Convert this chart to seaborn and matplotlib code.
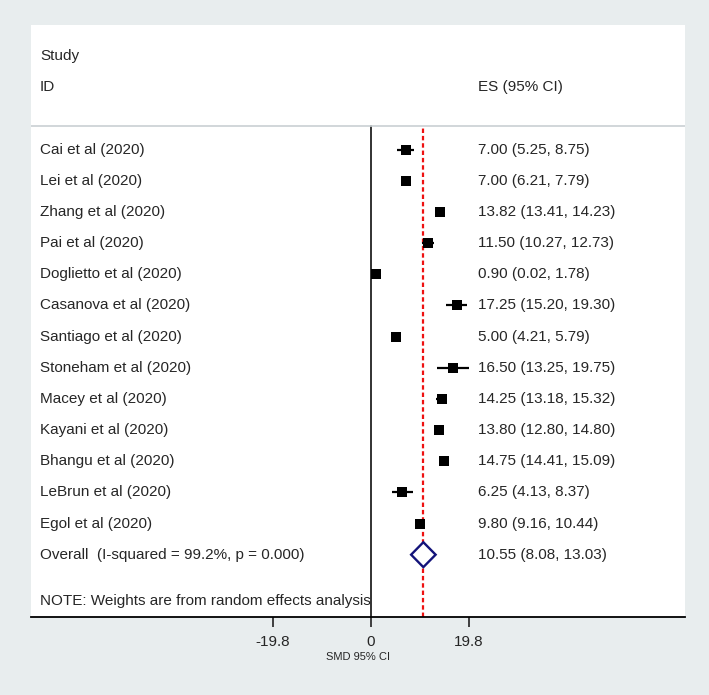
import matplotlib
matplotlib.use("Agg")
import matplotlib.pyplot as plt
import seaborn as sns
import pandas as pd

studies = ["Cai et al (2020)", "Lei et al (2020)", "Zhang et al (2020)", "Pai et al (2020)",
           "Doglietto et al (2020)", "Casanova et al (2020)", "Santiago et al (2020)",
           "Stoneham et al (2020)", "Macey et al (2020)", "Kayani et al (2020)",
           "Bhangu et al (2020)", "LeBrun et al (2020)", "Egol et al (2020)"]
es = [7.00, 7.00, 13.82, 11.50, 0.90, 17.25, 5.00, 16.50, 14.25, 13.80, 14.75, 6.25, 9.80]
lo = [5.25, 6.21, 13.41, 10.27, 0.02, 15.20, 4.21, 13.25, 13.18, 12.80, 14.41, 4.13, 9.16]
hi = [8.75, 7.79, 14.23, 12.73, 1.78, 19.30, 5.79, 19.75, 15.32, 14.80, 15.09, 8.37, 10.44]

overall_label = "Overall  (I-squared = 99.2%, p = 0.000)"
overall_es, overall_lo, overall_hi = 10.55, 8.08, 13.03
note = "NOTE: Weights are from random effects analysis"
xticks = [-19.8, 0, 19.8]

df = pd.DataFrame({"study": studies, "es": es, "lo": lo, "hi": hi})
df["row"] = range(len(df))

sns.set_style("white")
plt.rcParams["font.family"] = ["Liberation Sans", "DejaVu Sans"]

bg = "#e8edee"
fig = plt.figure(figsize=(7.09, 6.95), dpi=100, facecolor=bg)
ax = fig.add_axes([31 / 709, 1 - 617 / 695, 654 / 709, 592 / 695])
ax.set_facecolor("white")

n = len(df)
overall_row = n
ax.set_xlim(-68.7, 63.4)
ax.set_ylim(15, -4)
header_y = -0.77
top_frac = (15 - header_y) / 19

# reference lines
ax.axvline(0, ymin=0, ymax=top_frac, color="#222222", lw=1.3, zorder=1)
ax.axvline(overall_es, ymin=0, ymax=top_frac, color="#ee1111", lw=1.6,
           dashes=(2.0, 1.3), zorder=1)
ax.axhline(header_y, color="#c9d0d3", lw=1.2, zorder=1)

# confidence intervals + point estimates
ax.hlines(df["row"], df["lo"], df["hi"], color="black", lw=1.6, zorder=2)
sns.scatterplot(data=df, x="es", y="row", marker="s", s=42, color="black",
                edgecolor="black", linewidth=0, ax=ax, zorder=3, legend=False)

# overall diamond
h = 0.4
ax.fill([overall_lo, overall_es, overall_hi, overall_es],
        [overall_row, overall_row - h, overall_row, overall_row + h],
        facecolor="white", edgecolor="#13137a", lw=1.7, zorder=3)

# text columns
tr = ax.get_yaxis_transform()
fs = 11
lx, rx = 0.0138, 0.6835
ax.text(lx, -3, "Study", transform=tr, fontsize=fs, va="center")
ax.text(lx, -2, "ID", transform=tr, fontsize=fs, va="center")
ax.text(rx, -2, "ES (95% CI)", transform=tr, fontsize=fs, va="center")
for r, s_, e, l, u in zip(df["row"], studies, es, lo, hi):
    ax.text(lx, r, s_, transform=tr, fontsize=fs, va="center")
    ax.text(rx, r, f"{e:.2f} ({l:.2f}, {u:.2f})", transform=tr, fontsize=fs, va="center")
ax.text(lx, overall_row, overall_label, transform=tr, fontsize=fs, va="center")
ax.text(rx, overall_row, f"{overall_es:.2f} ({overall_lo:.2f}, {overall_hi:.2f})",
        transform=tr, fontsize=fs, va="center")
ax.text(lx, overall_row + 1.5, note, transform=tr, fontsize=fs, va="center")

# axes styling
for side in ["left", "top", "right"]:
    ax.spines[side].set_visible(False)
ax.spines["bottom"].set_color("black")
ax.spines["bottom"].set_linewidth(1.3)
ax.set_yticks([])
ax.set_xticks(xticks)
ax.set_xticklabels(["-19.8", "0", "19.8"], fontsize=fs)
ax.tick_params(axis="x", direction="out", length=7, width=1.2, color="#222222", pad=6, bottom=True)
ax.set_xlabel("SMD 95% CI", fontsize=8, labelpad=2)
ax.set_ylabel("")

fig.savefig("out.png", dpi=100, facecolor=bg)
